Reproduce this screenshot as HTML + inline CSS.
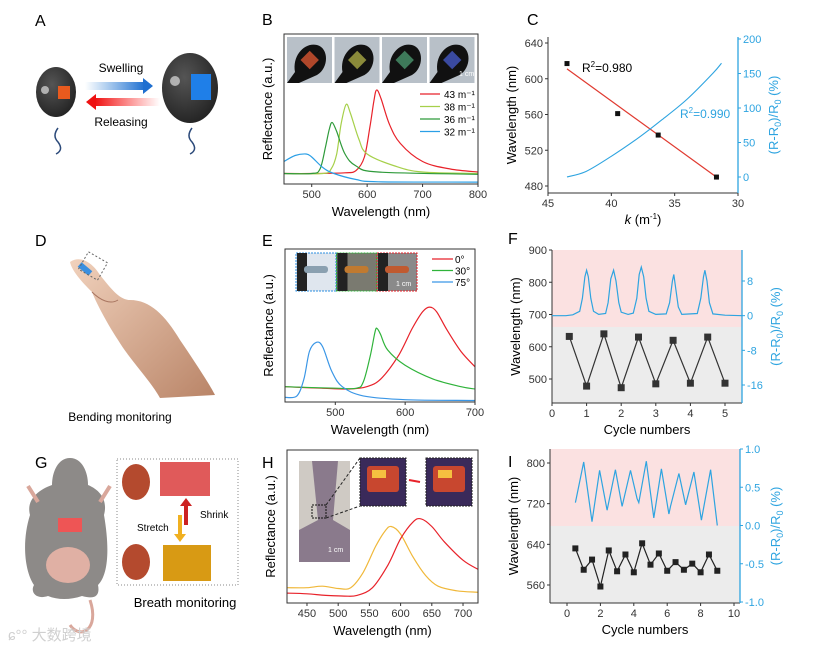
<!DOCTYPE html>
<html><head><meta charset="utf-8"><style>
html,body{margin:0;padding:0;background:#fff}
svg{display:block;font-family:"Liberation Sans","Noto Sans CJK SC",sans-serif}
</style></head><body>
<svg id="fig" width="831" height="651" viewBox="0 0 831 651" xmlns="http://www.w3.org/2000/svg">
<defs>
<linearGradient id="gBlue" x1="0" x2="1"><stop offset="0" stop-color="#2a7fd6" stop-opacity="0"/><stop offset="1" stop-color="#1f6fd0"/></linearGradient>
<linearGradient id="gRed" x1="1" x2="0"><stop offset="0" stop-color="#ff2020" stop-opacity="0"/><stop offset="1" stop-color="#ee1111"/></linearGradient>
<radialGradient id="gBall" cx="0.4" cy="0.35" r="0.7"><stop offset="0" stop-color="#555"/><stop offset="1" stop-color="#222"/></radialGradient>
<linearGradient id="gSkin" x1="0" x2="1" y1="0" y2="1"><stop offset="0" stop-color="#f1d2bd"/><stop offset="1" stop-color="#b98467"/></linearGradient>
</defs>

<!-- Panel A -->
<g>
<text x="35" y="26" font-size="16">A</text>
<path d="M58,128 q-6,8 0,14 q6,8 -2,12" stroke="#2c4a7a" stroke-width="1.5" fill="none"/>
<ellipse cx="56" cy="92" rx="20" ry="25" fill="url(#gBall)"/>
<circle cx="45" cy="90" r="4" fill="#ccc" opacity="0.8"/>
<rect x="58" y="86" width="12" height="13" fill="#e85a1e"/>
<path d="M192,128 q-6,8 0,14 q6,8 -2,12" stroke="#2c4a7a" stroke-width="1.5" fill="none"/>
<ellipse cx="190" cy="88" rx="28" ry="35" fill="url(#gBall)"/>
<circle cx="175" cy="81" r="5" fill="#ccc" opacity="0.8"/>
<rect x="191" y="74" width="20" height="26" fill="#1f7fe8"/>
<rect x="85" y="82" width="60" height="8" fill="url(#gBlue)"/>
<polygon points="143,78 153,86 143,94" fill="#1f6fd0"/>
<rect x="95" y="98" width="65" height="8" fill="url(#gRed)"/>
<polygon points="96,94 86,102 96,110" fill="#ee1111"/>
<text x="121" y="72" font-size="12" text-anchor="middle">Swelling</text>
<text x="121" y="126" font-size="12" text-anchor="middle">Releasing</text>
</g>

<!-- Panel D -->
<g>
<text x="35" y="246" font-size="16">D</text>
<path d="M70,262 C80,255 92,262 100,275 C112,290 120,300 130,300 C150,300 165,315 180,340 C195,362 210,385 215,395 L160,398 C150,380 130,360 118,340 C105,320 95,300 92,292 C85,285 72,272 70,262 Z" fill="url(#gSkin)"/>
<path d="M92,292 C100,300 110,305 118,300" stroke="#a87560" fill="none"/>
<rect x="78" y="266" width="14" height="6" fill="#3a8fe0" transform="rotate(40 85 269)"/>
<rect x="82" y="256" width="22" height="20" fill="none" stroke="#666" stroke-dasharray="2,2" transform="rotate(30 93 266)"/>
<text x="120" y="421" font-size="12" text-anchor="middle">Bending monitoring</text>
</g>

<!-- Panel G -->
<g>
<text x="35" y="468" font-size="16">G</text>
<path d="M70,458 C82,458 88,472 88,485 C100,490 108,500 104,515 C110,550 108,575 98,585 C100,595 96,600 82,596 C70,600 58,600 48,596 C36,600 30,592 34,585 C24,570 22,540 30,515 C26,500 38,490 52,485 C52,472 58,458 70,458 Z" fill="#8d8a88"/>
<path d="M28,486 L38,502 M110,486 L100,502" stroke="#d9a79b" stroke-width="4"/>
<path d="M90,600 C100,630 80,640 70,625" stroke="#d9a79b" stroke-width="3" fill="none"/>
<ellipse cx="68" cy="565" rx="22" ry="18" fill="#e0b0a4"/>
<rect x="58" y="518" width="24" height="14" fill="#e55"/>
<rect x="117" y="459" width="121" height="126" fill="#fff" stroke="#888" stroke-dasharray="1,2"/>
<ellipse cx="136" cy="482" rx="14" ry="18" fill="#b44a2e"/>
<ellipse cx="136" cy="562" rx="14" ry="18" fill="#b44a2e"/>
<rect x="160" y="462" width="50" height="34" fill="#e05a5a"/>
<rect x="163" y="545" width="48" height="36" fill="#d89a14"/>
<rect x="184" y="505" width="4" height="20" fill="#c22"/><polygon points="180,506 186,498 192,506" fill="#c22"/>
<rect x="178" y="515" width="4" height="20" fill="#f0b020"/><polygon points="174,534 180,542 186,534" fill="#f0b020"/>
<text x="200" y="518" font-size="10">Shrink</text>
<text x="137" y="531" font-size="10">Stretch</text>
<text x="185" y="607" font-size="13" text-anchor="middle">Breath monitoring</text>
<text x="8" y="640" font-size="15" fill="#d0d0d0">ɕ°° 大数跨境</text>
</g>

<g id="charts"></g>
</svg>
<script>
// ===== Data =====
const bRedX=[450,500,560,580,595,605,612,617,625,640,660,700,750,800];
const bRedY=[.07,.07,.075,.09,.18,.38,.55,.627,.57,.4,.27,.15,.1,.08];
const bLgX=[450,520,535,545,553,562,570,585,600,650,700,800];
const bLgY=[.07,.07,.1,.2,.4,.53,.47,.3,.2,.12,.08,.07];
const bDgX=[450,500,515,525,532,537,545,560,580,620,800];
const bDgY=[.07,.07,.1,.25,.37,.41,.35,.2,.12,.08,.065];
const bBlX=[450,470,490,500,520,540,580,620,800];
const bBlY=[.15,.19,.2,.18,.11,.07,.03,.015,.013];
const bLegend=["43 m⁻¹","38 m⁻¹","36 m⁻¹","32 m⁻¹"];
const bTicks=[500,600,700,800];
const cK=[43.5,39.5,36.3,31.7];
const cWave=[617,561,537,490];
const cFitK=[43.5,31.7];
const cFitW=[611,490];
const cCurveK=[43.5,42,40,38,36,34,32,31.3];
const cCurveR=[0,8,30,55,83,113,150,165];
const cXTicks=[45,40,35,30];
const cYTicks=[480,520,560,600,640];
const cRTicks=[0,50,100,150,200];
const eRedX=[428,480,520,545,565,590,610,625,635,645,660,680,700];
const eRedY=[.1,.09,.085,.1,.15,.3,.48,.59,.62,.59,.47,.33,.23];
const eGrX=[428,500,530,540,550,557,560,565,575,600,640,680,700];
const eGrY=[.1,.09,.09,.13,.3,.46,.48,.44,.34,.24,.15,.1,.085];
const eBlX=[428,445,455,463,473,482,495,510,540,600,700];
const eBlY=[.03,.04,.15,.33,.39,.36,.2,.1,.04,.015,.01];
const eLegend=["0°","30°","75°"];
const eTicks=[500,600,700];
const hYeX=[418,450,475,500,520,540,560,575,585,600,620,640,660,690,724];
const hYeY=[.1,.1,.11,.095,.1,.2,.37,.47,.5,.45,.3,.18,.11,.08,.07];
const hReX=[418,450,480,510,530,555,580,600,620,633,650,670,700,724];
const hReY=[.065,.06,.05,.045,.05,.1,.25,.42,.53,.55,.5,.4,.28,.22];
const hTicks=[450,500,550,600,650,700];
const fCycle=[0.5,1,1.5,2,2.5,3,3.5,4,4.5,5];
const fWave=[632,478,640,473,630,485,620,487,630,487];
const fRelX=[0,0.4,0.6,0.8,0.88,0.95,1.0,1.05,1.12,1.2,1.35,1.55,1.62,1.7,1.78,1.85,1.93,2.0,2.2,2.35,2.45,2.52,2.58,2.65,2.72,2.8,3.0,3.3,3.4,3.48,3.52,3.58,3.65,3.75,4.2,4.3,4.38,4.42,4.48,4.55,4.65,5.0,5.5];
const fRelY=[0,0,0.2,1,4,9,10.5,9,4,1,0.3,0.5,3,8.5,10.5,8,3,0.8,0.3,0.6,4,9.5,11.2,9,4,1,0.3,0.4,3,8,9.5,6,2,0.3,0.5,4,9,10.5,8,3,0.4,0.1,0];
const fXTicks=[0,1,2,3,4,5];
const fYTicks=[500,600,700,800,900];
const fRTicks=[-16,-8,0,8];
const iCycle=[0.5,1,1.5,2,2.5,3,3.5,4,4.5,5,5.5,6,6.5,7,7.5,8,8.5,9];
const iWave=[632,590,610,557,628,587,620,585,642,600,622,588,605,590,602,585,620,588];
const iRelX=[0.5,1.0,1.5,1.95,2.4,2.9,3.3,3.8,4.2,4.3,4.75,5.2,5.65,6.1,6.2,6.7,7.1,7.6,8.05,8.6,9.0];
const iRelY=[0.3,0.83,0.05,0.72,0.2,0.73,0.25,0.72,0.35,0.3,0.84,0.1,0.74,0.15,0.25,0.68,0.27,0.7,0.07,0.73,0.0];
const iXTicks=[0,2,4,6,8,10];
const iYTicks=[560,640,720,800];
const iRTicks=[-1.0,-0.5,0.0,0.5,1.0];

// ===== Drawing helpers =====
const NS="http://www.w3.org/2000/svg";
const root=document.getElementById('charts');
const BLUE="#2ea4e0";
function mk(tag,attrs,parent){const e=document.createElementNS(NS,tag);for(const k in attrs)e.setAttribute(k,attrs[k]);(parent||root).appendChild(e);return e;}
function lin(d0,d1,r0,r1){return v=>r0+(v-d0)*(r1-r0)/(d1-d0);}
function smooth(pts){let d="M"+pts[0][0].toFixed(1)+","+pts[0][1].toFixed(1);
 for(let i=0;i<pts.length-1;i++){const p0=pts[i-1]||pts[i],p1=pts[i],p2=pts[i+1],p3=pts[i+2]||p2;
  const c1=[p1[0]+(p2[0]-p0[0])/6,p1[1]+(p2[1]-p0[1])/6],c2=[p2[0]-(p3[0]-p1[0])/6,p2[1]-(p3[1]-p1[1])/6];
  d+=" C"+c1[0].toFixed(1)+","+c1[1].toFixed(1)+" "+c2[0].toFixed(1)+","+c2[1].toFixed(1)+" "+p2[0].toFixed(1)+","+p2[1].toFixed(1);}
 return d;}
function poly(pts){return "M"+pts.map(p=>p[0].toFixed(1)+","+p[1].toFixed(1)).join(" L");}
function txt(x,y,s,size,opt){const t=mk('text',Object.assign({x:x,y:y,'font-size':size},opt||{}),opt&&opt._p);t.textContent=s;return t;}

function drawSeries(g,xs,ys,sx,sy,color,name,smoothIt){
 const pts=xs.map((x,i)=>[sx(x),sy(ys[i])]);
 const p=mk('path',{d:smoothIt?smooth(pts):poly(pts),fill:'none',stroke:color,'stroke-width':1.2},g);
 
 
 return p;}

function spectraPanel(cfg){
 const g=mk('g',{});
 
 
 const sx=lin(cfg.x0,cfg.x1,cfg.L,cfg.R), sy=lin(0,1,cfg.B,cfg.T);
 cfg.series.forEach(s=>drawSeries(g,s[0],s[1],sx,sy,s[2],s[3],true));
 const box=mk('rect',{x:cfg.L,y:cfg.T,width:cfg.R-cfg.L,height:cfg.B-cfg.T,fill:'none',stroke:'#333','stroke-width':1},g);
 
 
 cfg.ticks.forEach(v=>{const x=sx(v);mk('line',{x1:x,x2:x,y1:cfg.B,y2:cfg.B+3,stroke:'#333'},g);
  const t=txt(x,cfg.B+14,String(v),11,{'text-anchor':'middle',fill:'#333',_p:g});
  
  });
 const xt=txt((cfg.L+cfg.R)/2,cfg.B+32,"Wavelength (nm)",13,{'text-anchor':'middle',_p:g});
 
 
 const yt=txt(0,0,"Reflectance (a.u.)",13,{'text-anchor':'middle',transform:`translate(${cfg.L-12},${(cfg.T+cfg.B)/2}) rotate(-90)`,_p:g});
 
 
 const lb=txt(262,cfg.letterY,cfg.letter,16,{_p:g});
 
 
 return {g,sx,sy};}

// ---- Panel B ----
(function(){
 const P=spectraPanel({name:'panel-b-chart',letter:'B',letterY:25,L:284,R:478,T:34,B:184,x0:450,x1:800,ticks:bTicks,
  series:[[bRedX,bRedY,'#e8222a','series-43'],[bLgX,bLgY,'#a6d04a','series-38'],[bDgX,bDgY,'#2e9a3a','series-36'],[bBlX,bBlY,'#2b9fe6','series-32']]});
 const cols=['#e8222a','#a6d04a','#2e9a3a','#2b9fe6'];
 const photos=['#b0472a','#8a8a3a','#3e7a5a','#3a4aa0'];
 photos.forEach((c,i)=>{const x=287+i*47.5;
  const r=mk('rect',{x:x,y:37,width:45,height:46,fill:'#b8c0c8'},P.g);
  
  
  mk('path',{d:`M${x},${83} L${x+8},72 C${x+5},55 ${x+18},42 ${x+30},45 C${x+42},48 ${x+42},68 ${x+30},75 L${x+12},83 Z`,fill:'#111'},P.g);
  mk('rect',{x:x+16,y:53,width:13,height:13,fill:c,transform:`rotate(45 ${x+22} ${60})`},P.g);});
 txt(459,76,"1 cm",7,{fill:'#fff',_p:P.g});
 bLegend.forEach((s,i)=>{const y=94+i*12.5;
  const l=mk('line',{x1:420,x2:440,y1:y,y2:y,stroke:cols[i],'stroke-width':1.3},P.g);
  
  
  const t=txt(444,y+4,s,10,{_p:P.g});
  
  });
})();

// ---- Panel E ----
(function(){
 const P=spectraPanel({name:'panel-e-chart',letter:'E',letterY:246,L:285,R:475,T:249,B:402,x0:428,x1:700,ticks:eTicks,
  series:[[eRedX,eRedY,'#e8222a','series-0deg'],[eGrX,eGrY,'#2fb33a','series-30deg'],[eBlX,eBlY,'#3a96e6','series-75deg']]});
 const frames=[['#dfe6ee','#2b8fe0'],['#7a7a70','#2fb33a'],['#8a8a8a','#e8222a']];
 frames.forEach((f,i)=>{const x=296+i*40.5;
  const r=mk('rect',{x:x,y:253,width:40,height:38,fill:f[0],stroke:f[1],'stroke-dasharray':'2,1'},P.g);
  
  
  mk('rect',{x:x+1,y:253,width:10,height:38,fill:'#222'},P.g);
  mk('rect',{x:x+8,y:266,width:24,height:7,rx:3,fill:i==0?'#8aa0b0':i==1?'#c07a30':'#c05a30'},P.g);});
 txt(396,286,"1 cm",7,{fill:'#fff',_p:P.g});
 const cols=['#e8222a','#2fb33a','#3a96e6'];
 eLegend.forEach((s,i)=>{const y=259+i*11.5;
  const l=mk('line',{x1:432,x2:453,y1:y,y2:y,stroke:cols[i],'stroke-width':1.3},P.g);
  
  
  const t=txt(455,y+4,s,10,{_p:P.g});
  
  });
})();

// ---- Panel H ----
(function(){
 const P=spectraPanel({name:'panel-h-chart',letter:'H',letterY:468,L:287,R:478,T:450,B:603,x0:418,x1:724,ticks:hTicks,
  series:[[hYeX,hYeY,'#f0b83a','series-stretch'],[hReX,hReY,'#e8222a','series-shrink']]});
 const m=mk('rect',{x:299,y:461,width:51,height:101,fill:'#8a7a8c'},P.g);
 
 
 mk('path',{d:'M299,461 L312,461 L318,520 L299,530 Z',fill:'#cfcac4'},P.g);
 mk('path',{d:'M350,461 L338,461 L333,520 L350,530 Z',fill:'#cfcac4'},P.g);
 mk('rect',{x:312,y:505,width:14,height:13,fill:'none',stroke:'#111','stroke-dasharray':'2,1'},P.g);
 mk('path',{d:'M326,505 L360,458 M326,518 L360,506',stroke:'#222','stroke-dasharray':'3,2'},P.g);
 txt(328,552,"1 cm",7,{fill:'#fff',_p:P.g});
 [360,426].forEach(x=>{const s=mk('rect',{x:x,y:458,width:46,height:48,fill:'#3a2a5a',stroke:'#222','stroke-dasharray':'2,1'},P.g);
  
  
  mk('rect',{x:x+7,y:466,width:32,height:26,rx:3,fill:'#d84a2a',opacity:0.9},P.g);
  mk('rect',{x:x+12,y:470,width:14,height:8,fill:'#f5c040'},P.g);});
 mk('line',{x1:409,x2:420,y1:480,y2:482,stroke:'#e8222a','stroke-width':2},P.g);
})();

// ---- Dual-axis panels ----
function dualPanel(cfg){
 const g=mk('g',{});
 
 
 const sx=lin(cfg.x0,cfg.x1,cfg.xp0,cfg.xp1), sy=lin(cfg.y0,cfg.y1,cfg.yp0,cfg.yp1), sr=lin(cfg.r0,cfg.r1,cfg.rp0,cfg.rp1);
 if(cfg.split){mk('rect',{x:cfg.L,y:cfg.T,width:cfg.R-cfg.L,height:cfg.split-cfg.T,fill:'#fbe1e1'},g);
  mk('rect',{x:cfg.L,y:cfg.split,width:cfg.R-cfg.L,height:cfg.B-cfg.split,fill:'#ececec'},g);}
 mk('line',{x1:cfg.L,x2:cfg.L,y1:cfg.T,y2:cfg.B,stroke:'#333'},g);
 mk('line',{x1:cfg.L,x2:cfg.R,y1:cfg.B,y2:cfg.B,stroke:'#333'},g);
 mk('line',{x1:cfg.R,x2:cfg.R,y1:cfg.T,y2:cfg.B,stroke:BLUE,'stroke-width':1.3},g);
 cfg.xTicks.forEach(v=>{const x=sx(v);mk('line',{x1:x,x2:x,y1:cfg.B,y2:cfg.B+3,stroke:'#333'},g);
  const t=txt(x,cfg.B+14,String(v),11,{'text-anchor':'middle',fill:'#333',_p:g});
  
  });
 cfg.yTicks.forEach(v=>{const y=sy(v);mk('line',{x1:cfg.L-3,x2:cfg.L,y1:y,y2:y,stroke:'#333'},g);
  const t=txt(cfg.L-5,y+4,String(v),11,{'text-anchor':'end',fill:'#333',_p:g});
  
  });
 cfg.rTicks.forEach(v=>{const y=sr(v);mk('line',{x1:cfg.R,x2:cfg.R+3,y1:y,y2:y,stroke:BLUE},g);
  const t=txt(cfg.R+5,y+4,cfg.rFmt?cfg.rFmt(v):String(v),11,{fill:BLUE,_p:g});
  
  });
 const yt=txt(0,0,"Wavelength (nm)",13,{'text-anchor':'middle',transform:`translate(${cfg.L-cfg.ytOff},${(cfg.T+cfg.B)/2}) rotate(-90)`,_p:g});
 
 
 const rt=mk('text',{'font-size':13,fill:BLUE,'text-anchor':'middle',transform:`translate(${cfg.R+cfg.rtOff},${(cfg.T+cfg.B)/2}) rotate(-90)`},g);
 rt.innerHTML='(R-R<tspan font-size="9" dy="3">0</tspan><tspan dy="-3">)/R</tspan><tspan font-size="9" dy="3">0</tspan><tspan dy="-3"> (%)</tspan>';
 
 
 const xt=mk('text',{x:(cfg.L+cfg.R)/2,y:cfg.B+31,'font-size':13,'text-anchor':'middle'},g);
 xt.innerHTML=cfg.xTitle;
 
 
 const lb=txt(cfg.letterX,cfg.letterY,cfg.letter,16,{_p:g});
 
 
 return {g,sx,sy,sr};}

// ---- Panel C ----
(function(){
 const P=dualPanel({name:'panel-c-chart',letter:'C',letterX:527,letterY:25,L:548,R:738,T:37,B:193,
  x0:45,x1:30,xp0:548,xp1:738,y0:480,y1:640,yp0:186,yp1:43,r0:0,r1:200,rp0:177,rp1:39,
  xTicks:cXTicks,yTicks:cYTicks,rTicks:cRTicks,ytOff:32,rtOff:40,xTitle:'<tspan font-style="italic">k</tspan> (m<tspan font-size="8" dy="-5">-1</tspan><tspan dy="5">)</tspan>'});
 drawSeries(P.g,cFitK,cFitW,P.sx,P.sy,'#e03a30','linear-fit',false);
 const pts=cCurveK.map((k,i)=>[P.sx(k),P.sr(cCurveR[i])]);
 const c=mk('path',{d:smooth(pts),fill:'none',stroke:BLUE,'stroke-width':1.1},P.g);
 
 
 cK.forEach((k,i)=>{const r=mk('rect',{x:P.sx(k)-2.5,y:P.sy(cWave[i])-2.5,width:5,height:5,fill:'#111'},P.g);
  
  });
 const t1=mk('text',{x:582,y:72,'font-size':12},P.g);t1.innerHTML='R<tspan font-size="8" dy="-5">2</tspan><tspan dy="5">=0.980</tspan>';
 
 
 const t2=mk('text',{x:680,y:118,'font-size':12,fill:BLUE},P.g);t2.innerHTML='R<tspan font-size="8" dy="-5">2</tspan><tspan dy="5">=0.990</tspan>';
 
 
})();

// ---- Panel F ----
(function(){
 const P=dualPanel({name:'panel-f-chart',letter:'F',letterX:508,letterY:244,L:552,R:742,T:250,B:403,
  x0:0,x1:5,xp0:552,xp1:725,y0:500,y1:900,yp0:379,yp1:250,r0:-16,r1:8,rp0:385,rp1:281,split:327,
  xTicks:fXTicks,yTicks:fYTicks,rTicks:fRTicks,ytOff:32,rtOff:38,xTitle:'Cycle numbers'});
 drawSeries(P.g,fRelX,fRelY,P.sx,P.sr,BLUE,'resistance-line',false);
 drawSeries(P.g,fCycle,fWave,P.sx,P.sy,'#333','wavelength-line',false);
 fCycle.forEach((c,i)=>{const r=mk('rect',{x:P.sx(c)-3.5,y:P.sy(fWave[i])-3.5,width:7,height:7,fill:'#333'},P.g);
  
  });
})();

// ---- Panel I ----
(function(){
 const P=dualPanel({name:'panel-i-chart',letter:'I',letterX:508,letterY:467,L:550,R:740,T:449,B:603,
  x0:0,x1:10,xp0:567,xp1:734,y0:560,y1:800,yp0:585,yp1:463,r0:-1,r1:1,rp0:602,rp1:449,split:526,
  xTicks:iXTicks,yTicks:iYTicks,rTicks:iRTicks,rFmt:v=>v.toFixed(1),ytOff:32,rtOff:40,xTitle:'Cycle numbers'});
 drawSeries(P.g,iRelX,iRelY,P.sx,P.sr,BLUE,'resistance-line',false);
 drawSeries(P.g,iCycle,iWave,P.sx,P.sy,'#222','wavelength-line',false);
 iCycle.forEach((c,i)=>{const r=mk('rect',{x:P.sx(c)-3,y:P.sy(iWave[i])-3,width:6,height:6,fill:'#222'},P.g);
  
  });
})();
</script>
</body></html>
